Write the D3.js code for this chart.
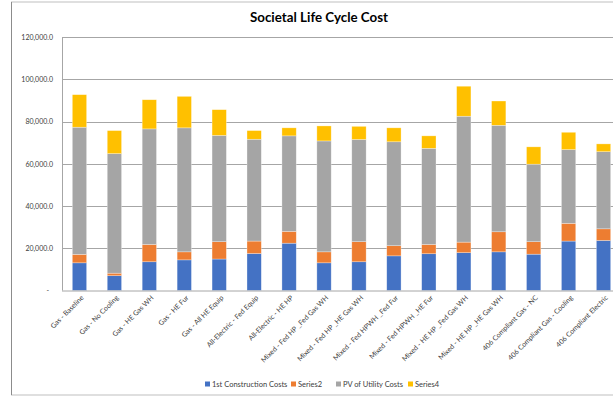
<!DOCTYPE html>
<html><head><meta charset="utf-8">
<script src="https://cdn.jsdelivr.net/npm/d3@7"></script>
<style>body{margin:0;background:#fff}svg{display:block}text{font-family:Lato,"Liberation Sans",sans-serif}</style>
</head><body><svg id="c" width="613" height="404"></svg>
<script>
const categories = ["Gas - Baseline","Gas - No Cooling","Gas - HE Gas WH","Gas - HE Fur","Gas - All HE Equip","All-Electric - Fed Equip","All-Electric - HE HP","Mixed - Fed HP _Fed Gas WH","Mixed - Fed HP _HE Gas WH","Mixed - Fed HPWH _Fed Fur","Mixed - Fed HPWH _HE Fur","Mixed - HE HP _Fed Gas WH","Mixed - HE HP _HE Gas WH","406 Compliant Gas - NC","406 Compliant Gas - Cooling","406 Compliant Electric"];
const seriesNames = ["1st Construction Costs","Series2","PV of Utility Costs","Series4"];
const constructionCosts = [13100,7000,13600,14500,14900,17500,22400,13100,13600,16400,17400,17900,18300,17200,23400,23700];
const series2 = [4000,1200,8200,3800,8200,5900,5600,5200,9500,4800,4400,5000,9500,5900,8400,5500];
const utilityCosts = [60200,56600,54700,58700,50300,48200,45200,52500,48400,49200,45500,59600,50400,36700,34900,36500];
const series4 = [15400,10900,13800,14900,12200,4100,3800,7100,6200,6600,5900,14200,11500,8200,8200,3700];
const yTicks = [0,20000,40000,60000,80000,100000,120000];
const colors = ["#4472C4","#ED7D31","#A5A5A5","#FFC000"];

(function(){
const svg = d3.select("#c");
const pLeft = 62, pRight = 621, pTop = 37, pBottom = 290.5;

// outer frame
svg.append("rect").attr("x",11.5).attr("y",2).attr("width",640).attr("height",393)
  .attr("fill","none").attr("stroke","#bfbfbf").attr("stroke-width",1);
svg.append("line").attr("x1",11.5).attr("x2",11.5).attr("y1",2).attr("y2",395).attr("stroke","#8c8c8c");

svg.append("text").attr("x",319).attr("y",22).attr("text-anchor","middle")
  .attr("font-size",14).attr("font-weight","bold").attr("fill","#000")
  .attr("textLength",138).attr("lengthAdjust","spacingAndGlyphs")
  .text("Societal Life Cycle Cost");

const x = d3.scaleBand().domain(categories).range([pLeft,pRight]).paddingInner(0.59).paddingOuter(0.295);
const y = d3.scaleLinear().domain([0,120000]).range([pBottom,pTop]);

// gridlines
svg.append("g").selectAll("line").data(yTicks.slice(1)).join("line")
  .attr("x1",pLeft).attr("x2",pRight).attr("y1",d=>Math.round(y(d))+0.5).attr("y2",d=>Math.round(y(d))+0.5)
  .attr("stroke","#a6a6a6").attr("stroke-width",1);
// plot border left
svg.append("line").attr("x1",pLeft+0.5).attr("x2",pLeft+0.5).attr("y1",pTop).attr("y2",pBottom).attr("stroke","#a6a6a6");

const rows = categories.map((c,i)=>({cat:c, s0:constructionCosts[i], s1:series2[i], s2:utilityCosts[i], s3:series4[i]}));
const stack = d3.stack().keys(["s0","s1","s2","s3"])(rows);
svg.append("g").selectAll("g").data(stack).join("g").attr("fill",(d,i)=>colors[i])
  .selectAll("rect").data(d=>d).join("rect")
  .attr("x",d=>x(d.data.cat)).attr("width",x.bandwidth())
  .attr("y",d=>y(d[1])).attr("height",d=>y(d[0])-y(d[1]))
  .attr("stroke","#ffffff").attr("stroke-opacity",0.5).attr("stroke-width",0.6);

// x axis line
svg.append("line").attr("x1",pLeft).attr("x2",pRight).attr("y1",pBottom+0.5).attr("y2",pBottom+0.5).attr("stroke","#a6a6a6");

// y axis labels
const yAxis = d3.axisLeft(y).tickValues(yTicks).tickSize(0).tickPadding(9)
  .tickFormat(d=> d===0 ? "-" : d3.format(",.1f")(d));
const ya = svg.append("g").attr("transform",`translate(${pLeft},0)`).call(yAxis);
ya.select(".domain").remove();
ya.selectAll("text").attr("font-size",7).attr("fill","#404040").attr("font-family","Lato,'Liberation Sans',sans-serif");
ya.selectAll(".tick").filter(d=>d===0).select("text").attr("dx",-4);

// x labels
const xa = svg.append("g").attr("transform",`translate(0,${pBottom})`)
  .call(d3.axisBottom(x).tickSize(0).tickPadding(0));
xa.select(".domain").remove();
xa.selectAll("text").attr("font-size",7).attr("fill","#404040").attr("font-family","Lato,'Liberation Sans',sans-serif")
  .attr("text-anchor","end").attr("dy","0.35em")
  .attr("transform","translate(3,6) rotate(-45)");

// legend
const lx = [205,291,336,408];
const lg = svg.append("g").selectAll("g").data(seriesNames).join("g")
  .attr("transform",(d,i)=>`translate(${lx[i]},384)`);
lg.append("rect").attr("x",0).attr("y",-2.5).attr("width",5).attr("height",5).attr("fill",(d,i)=>colors[i]);
lg.append("text").attr("x",7).attr("y",0).attr("dy","0.35em").attr("font-size",7.5).attr("fill","#404040").text(d=>d);
})();
</script></body></html>
